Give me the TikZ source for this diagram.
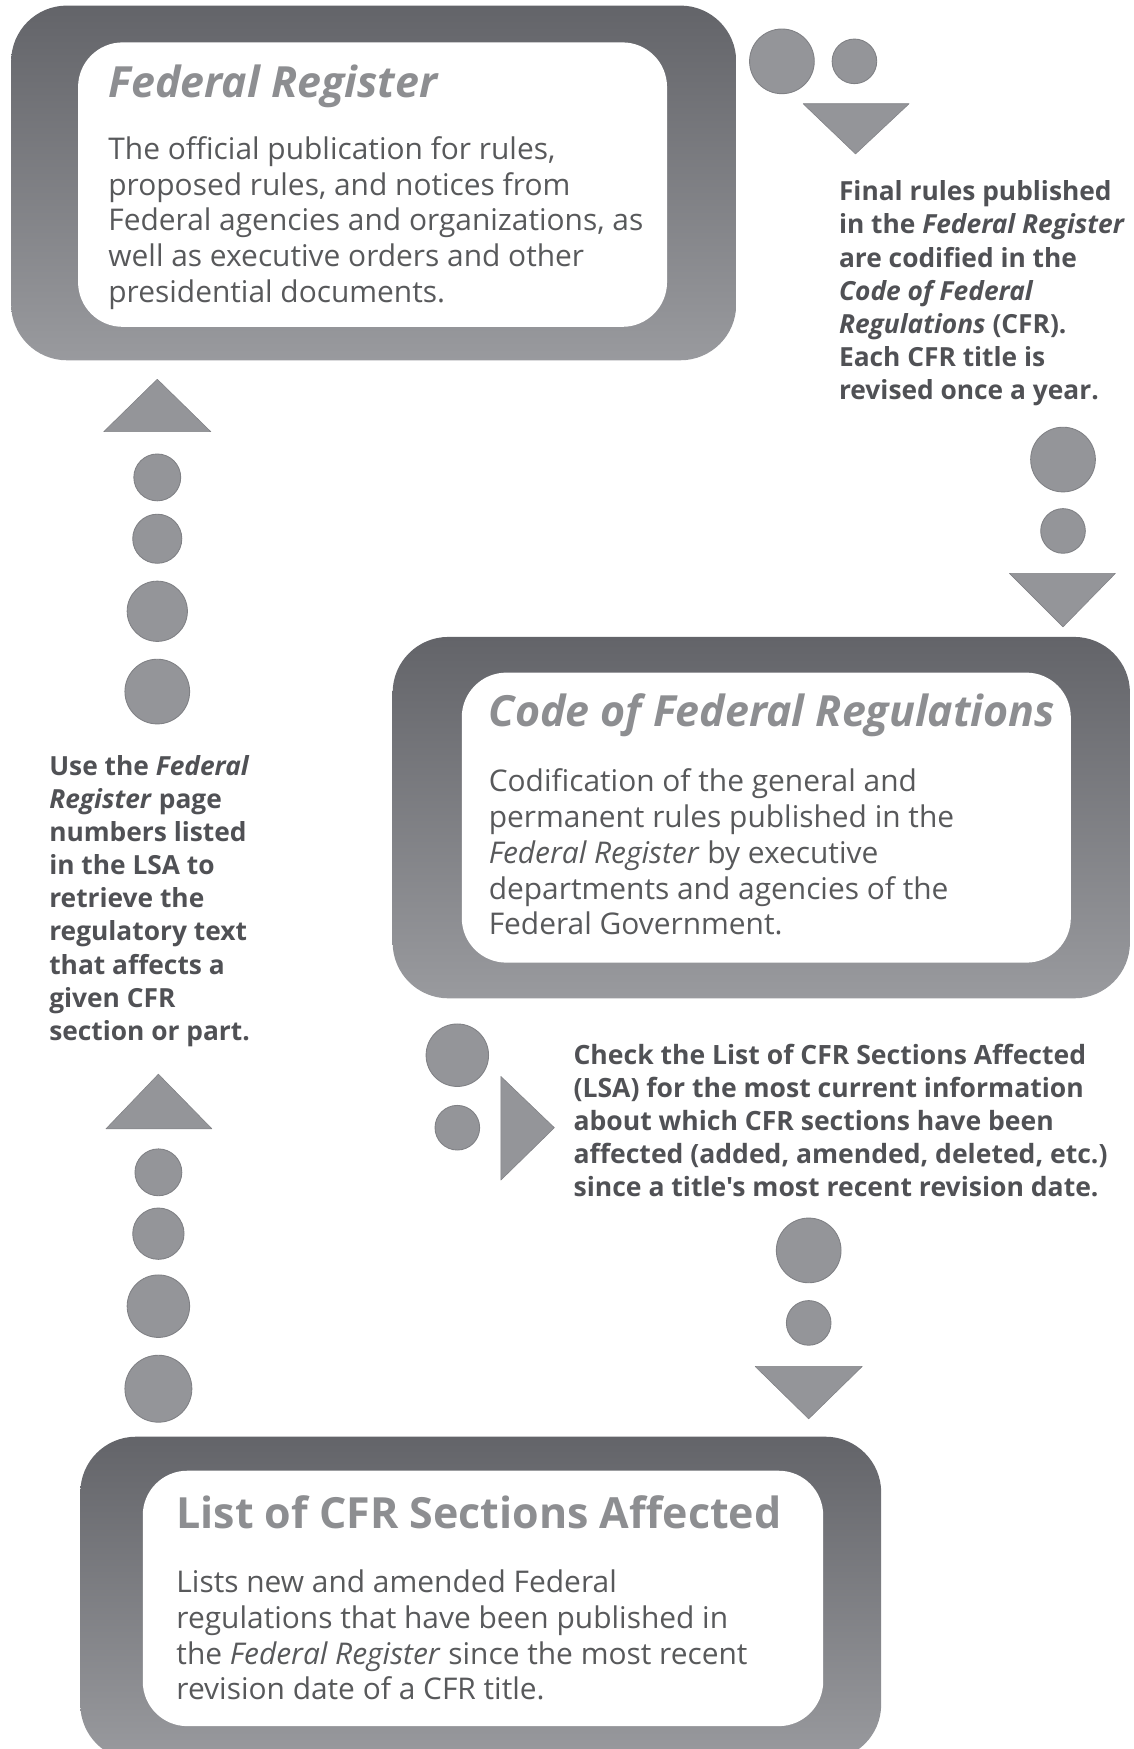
\documentclass[tikz,border=0pt]{standalone}
\usepackage{fontspec}
\setmainfont{Open Sans}
\newfontfamily\condfont{Open Sans}
\definecolor{boxtop}{HTML}{636469}
\definecolor{boxbot}{HTML}{999A9E}
\definecolor{dotfill}{HTML}{949599}
\definecolor{dotline}{HTML}{808185}
\definecolor{bodytext}{HTML}{58595B}
\definecolor{titletext}{HTML}{8D8E91}
\definecolor{notetext}{HTML}{505155}
\newcommand\txtlines[1]{\begin{tabular}[t]{@{}l@{}}#1\end{tabular}}
\begin{document}
\begin{tikzpicture}[x=1pt,y=-1pt,
  outerbox/.style={shade, top color=boxtop, bottom color=boxbot, rounded corners=50pt, inner sep=0pt},
  innerbox/.style={fill=white, rounded corners=40pt, inner sep=0pt},
  dot/.style={circle, fill=dotfill, draw=dotline, line width=0.8pt, inner sep=0pt},
  tri/.style={fill=dotfill, draw=dotline, line width=0.5pt, line join=round},
  boxtitle/.style={anchor=base west, inner sep=0pt, text=titletext, font=\fontsize{38.5}{42}\selectfont\bfseries\itshape},
  boxbody/.style={anchor=base west, inner sep=0pt, text=bodytext, font=\fontsize{26.8}{32}\selectfont},
  note/.style={anchor=base west, inner sep=0pt, text=notetext, font=\fontsize{23.6}{29.7}\selectfont\bfseries},
  condnote/.style={anchor=base west, inner sep=0pt, text=notetext, font=\fontsize{23.8}{29.7}\selectfont\condfont\bfseries}]
\useasboundingbox (0,0) rectangle (1016,1568);

% ---------- Box 1: Federal Register ----------
\node[outerbox, minimum width=650pt, minimum height=318pt] (frout) at (335,164) {};
\node[innerbox, minimum width=528pt, minimum height=255pt] (frin) at (334,165.5) {};
\node[boxtitle] (frtitle) at (97,87) {Federal Register};
\node[boxbody] (frbody) at (97,143) {\txtlines{The official publication for rules,\\
proposed rules, and notices from\\
Federal agencies and organizations, as\\
well as executive orders and other\\
presidential documents.}};

% ---------- Box 2: Code of Federal Regulations ----------
\node[outerbox, minimum width=661pt, minimum height=324pt] (cfrout) at (682.5,733) {};
\node[innerbox, minimum width=546pt, minimum height=260pt] (cfrin) at (687,733) {};
\node[boxtitle] (cfrtitle) at (438,651) {Code of Federal Regulations};
\node[boxbody] (cfrbody) at (438,710) {\txtlines{Codification of the general and\\
permanent rules published in the\\
\textit{Federal Register} by executive\\
departments and agencies of the\\
Federal Government.}};

% ---------- Box 3: List of CFR Sections Affected ----------
\node[outerbox, minimum width=718pt, minimum height=290pt] (lsaout) at (431,1433) {};
\node[innerbox, minimum width=610pt, minimum height=229pt] (lsain) at (433,1433) {};
\node[boxtitle, font=\fontsize{38.5}{42}\selectfont\bfseries] (lsatitle) at (158,1370) {List of CFR Sections Affected};
\node[boxbody] (lsabody) at (158,1428) {\txtlines{Lists new and amended Federal\\
regulations that have been published in\\
the \textit{Federal Register} since the most recent\\
revision date of a CFR title.}};

% ---------- Notes ----------
\node[note] (noteright) at (752,180) {\txtlines{Final rules published\\
in the \textit{Federal Register}\\
are codified in the\\
\textit{Code of Federal}\\
\textit{Regulations} (CFR).\\
Each CFR title is\\
revised once a year.}};
\node[note] (noteleft) at (44,695) {\txtlines{Use the \textit{Federal}\\
\textit{Register} page\\
numbers listed\\
in the LSA to\\
retrieve the\\
regulatory text\\
that affects a\\
given CFR\\
section or part.}};
\node[condnote] (notemid) at (514,954) {\txtlines{Check the List of CFR Sections Affected\\
(LSA) for the most current information\\
about which CFR sections have been\\
affected (added, amended, deleted, etc.)\\
since a title's most recent revision date.}};

% ---------- Dot arrows ----------
% Federal Register -> CFR (top)
\node[dot, minimum size=58pt] (a1) at (701,55) {};
\node[dot, minimum size=40pt] (a2) at (766,55) {};
\filldraw[tri] (720,93) -- (815,93) -- (767,138) -- cycle;
% right column down to CFR
\node[dot, minimum size=58pt] (b1) at (953,412) {};
\node[dot, minimum size=40pt] (b2) at (953,476) {};
\filldraw[tri] (905,514) -- (1000,514) -- (953,562) -- cycle;
% CFR -> middle note
\node[dot, minimum size=56pt] (c1) at (410,946) {};
\node[dot, minimum size=40pt] (c2) at (410,1011) {};
\filldraw[tri] (449,965) -- (449,1058) -- (497,1011) -- cycle;
% down to LSA
\node[dot, minimum size=58pt] (d1) at (725,1121) {};
\node[dot, minimum size=40pt] (d2) at (725,1186) {};
\filldraw[tri] (677,1225) -- (773,1225) -- (725,1272) -- cycle;
% LSA up to left note
\filldraw[tri] (95,1012) -- (190,1012) -- (142,963) -- cycle;
\node[dot, minimum size=42pt] (e1) at (142,1051) {};
\node[dot, minimum size=46pt] (e2) at (142,1106) {};
\node[dot, minimum size=56pt] (e3) at (142,1171) {};
\node[dot, minimum size=60pt] (e4) at (142,1245) {};
% left note up to Federal Register
\filldraw[tri] (93,387) -- (189,387) -- (141,340) -- cycle;
\node[dot, minimum size=42pt] (f1) at (141,428) {};
\node[dot, minimum size=44pt] (f2) at (141,483) {};
\node[dot, minimum size=54pt] (f3) at (141,548) {};
\node[dot, minimum size=58pt] (f4) at (141,620) {};
\end{tikzpicture}
\end{document}
